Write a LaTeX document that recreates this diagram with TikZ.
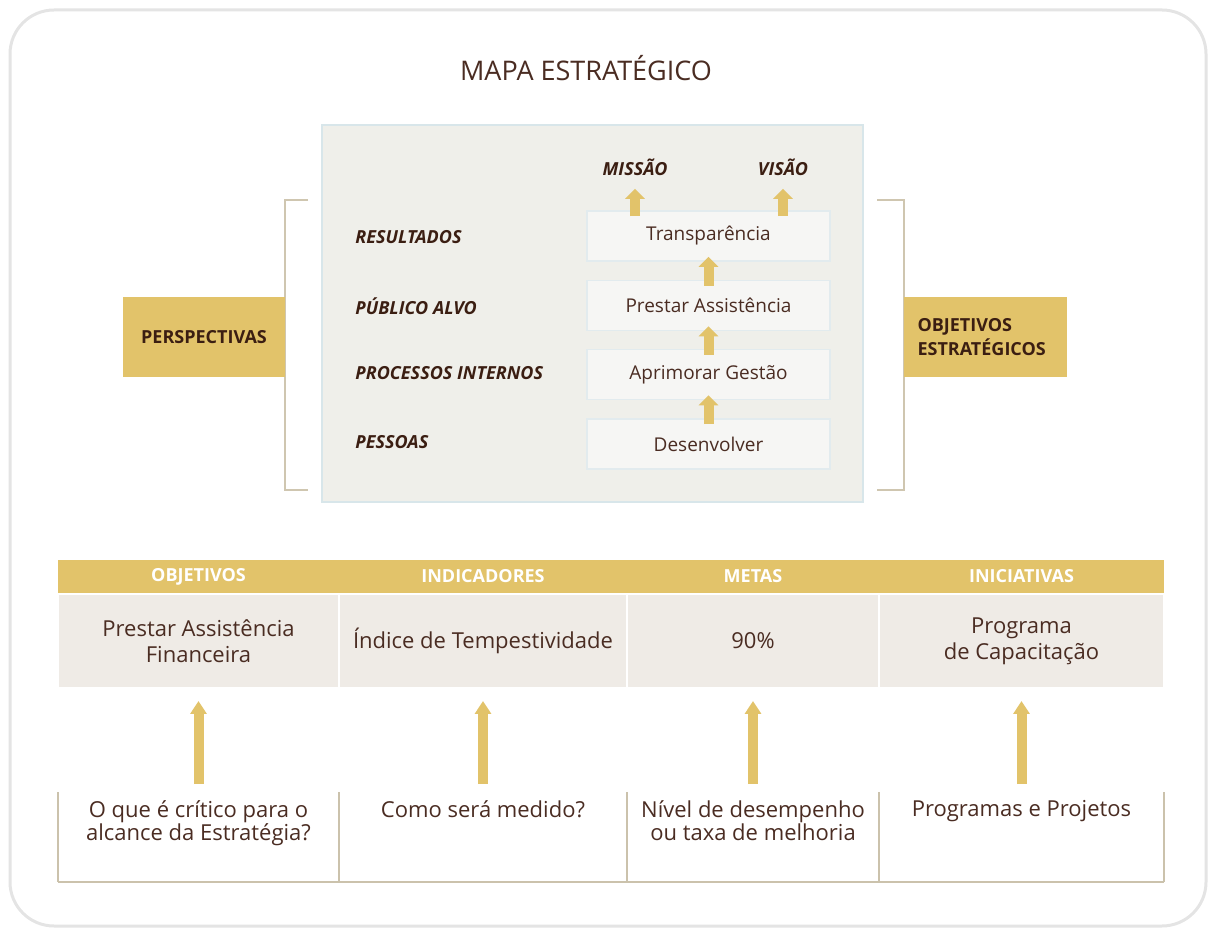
\documentclass[tikz,border=0pt]{standalone}
\usepackage{fontspec}
\setmainfont{Open Sans}
\usetikzlibrary{arrows.meta,positioning}
\definecolor{ouro}{HTML}{E2C36A}
\definecolor{colchete}{HTML}{CFC6B0}
\definecolor{painelfundo}{HTML}{EFEFEA}
\definecolor{painelborda}{HTML}{D8E6EA}
\definecolor{caixafundo}{HTML}{F6F6F4}
\definecolor{caixaborda}{HTML}{E2EBEE}
\definecolor{linhafundo}{HTML}{EFEBE6}
\definecolor{texto}{HTML}{4A2C22}
\definecolor{rotulo}{HTML}{3B1E12}
\definecolor{regua}{HTML}{CBC2AC}
\definecolor{moldura}{HTML}{E4E4E4}
\tikzset{
  objbox/.style={draw=caixaborda, fill=caixafundo, line width=0.8pt,
    minimum width=121.5pt, minimum height=25pt,
    font=\fontsize{9.5}{11}\selectfont, text=texto},
  persp/.style={anchor=west, inner sep=0pt,
    font=\fontsize{9}{11}\selectfont\bfseries\itshape, text=rotulo},
  etiqueta/.style={fill=ouro, minimum height=40pt,
    font=\fontsize{9}{12}\selectfont\bfseries, text=rotulo},
  cabecalho/.style={fill=ouro, minimum height=16.5pt, inner sep=0pt,
    font=\fontsize{9}{11}\selectfont\bfseries, text=white},
  celula/.style={fill=linhafundo, draw=white, line width=1pt,
    minimum height=47pt, align=center, inner sep=0pt,
    font=\fontsize{11}{13}\selectfont, text=texto},
  pergunta/.style={anchor=north, align=center, inner sep=0pt,
    font=\fontsize{11}{11.5}\selectfont, text=texto},
  seta/.style={draw=ouro, line width=5pt, -{Triangle[width=9.5pt,length=5pt]}},
  setalonga/.style={draw=ouro, line width=5pt, -{Triangle[width=8pt,length=6.5pt]}},
  linharegua/.style={draw=regua, line width=1pt}
}
\begin{document}
\begin{tikzpicture}[x=0.5pt,y=-0.5pt]
  \useasboundingbox (0,0) rectangle (1215,929);
  \draw[moldura, line width=1.5pt, rounded corners=22pt] (10,10) rectangle (1206,926);
  \node[font=\fontsize{13.5}{15}\selectfont, text=texto] (titulo) at (586,68) {MAPA ESTRATÉGICO};

  % painel central
  \draw[fill=painelfundo, draw=painelborda, line width=1pt] (322,125) rectangle (863,502);
  \draw[colchete, line width=1.2pt] (308,200) -- (285,200) -- (285,490) -- (308,490);
  \draw[colchete, line width=1.2pt] (877,200) -- (904,200) -- (904,490) -- (877,490);
  \node[etiqueta, minimum width=81pt] (perspectivas) at (204,337) {PERSPECTIVAS};
  \node[etiqueta, minimum width=81.5pt, text width=68pt, inner xsep=6.75pt, align=left]
    (objetivos) at (985.5,337) {OBJETIVOS\\ESTRATÉGICOS};

  \node[persp] (resultados) at (355,237) {RESULTADOS};
  \node[persp] (publico) at (355,306) {PÚBLICO ALVO};
  \node[persp] (processos) at (355,373) {PROCESSOS INTERNOS};
  \node[persp] (pessoas) at (355,442) {PESSOAS};

  \node[objbox] (transp) at (708.5,236) {Transparência};
  \node[objbox] (prestar) at (708.5,305.5) {Prestar Assistência};
  \node[objbox] (aprimorar) at (708.5,374.5) {Aprimorar Gestão};
  \node[objbox] (desenv) at (708.5,444) {Desenvolver};
  \node[persp, anchor=center] (missao) at (635,167) {MISSÃO};
  \node[persp, anchor=center] (visao) at (783,167) {VISÃO};

  \draw[seta, shorten <=-3pt, shorten >=-2.5pt] (desenv.north) -- (aprimorar.south);
  \draw[seta, shorten <=-3pt, shorten >=-2.5pt] (aprimorar.north) -- (prestar.south);
  \draw[seta, shorten <=-3pt, shorten >=-2.5pt] (prestar.north) -- (transp.south);
  \draw[seta, shorten <=-3pt, shorten >=6.5pt] (transp.north -| missao) -- (missao.south);
  \draw[seta, shorten <=-3pt, shorten >=6.5pt] (transp.north -| visao) -- (visao.south);

  % tabela
  \node[cabecalho, minimum width=140.5pt] (hobj) at (198.5,576.5) {OBJETIVOS};
  \node[cabecalho, minimum width=144pt] (hind) at (483,576.5) {INDICADORES};
  \node[cabecalho, minimum width=126pt] (hmet) at (753,576.5) {METAS};
  \node[cabecalho, minimum width=142.5pt] (hini) at (1021.5,576.5) {INICIATIVAS};

  \node[celula, minimum width=140.5pt] (obj) at (198.5,641) {Prestar Assistência\\Financeira};
  \node[celula, minimum width=144pt] (ind) at (483,641) {Índice de Tempestividade};
  \node[celula, minimum width=126pt] (met) at (753,641) {90\%};
  \node[celula, minimum width=142.5pt] (ini) at (1021.5,641) {Programa\\de Capacitação};

  \node[pergunta] (qobj) at (198.5,800) {O que é crítico para o\\alcance da Estratégia?};
  \node[pergunta] (qind) at (483,800) {Como será medido?};
  \node[pergunta] (qmet) at (753,800) {Nível de desempenho\\ou taxa de melhoria};
  \node[pergunta] (qini) at (1021.5,800) {Programas e Projetos};

  \draw[setalonga, shorten <=8pt, shorten >=6pt] (qobj.north) -- (obj.south);
  \draw[setalonga, shorten <=8pt, shorten >=6pt] (qind.north) -- (ind.south);
  \draw[setalonga, shorten <=8pt, shorten >=6pt] (qmet.north) -- (met.south);
  \draw[setalonga, shorten <=8pt, shorten >=6pt] (qini.north) -- (ini.south);

  \foreach \x in {58,339,627,879,1164}
    \draw[linharegua] (\x,792) -- (\x,882);
  \draw[linharegua] (58,882) -- (1164,882);
\end{tikzpicture}
\end{document}
